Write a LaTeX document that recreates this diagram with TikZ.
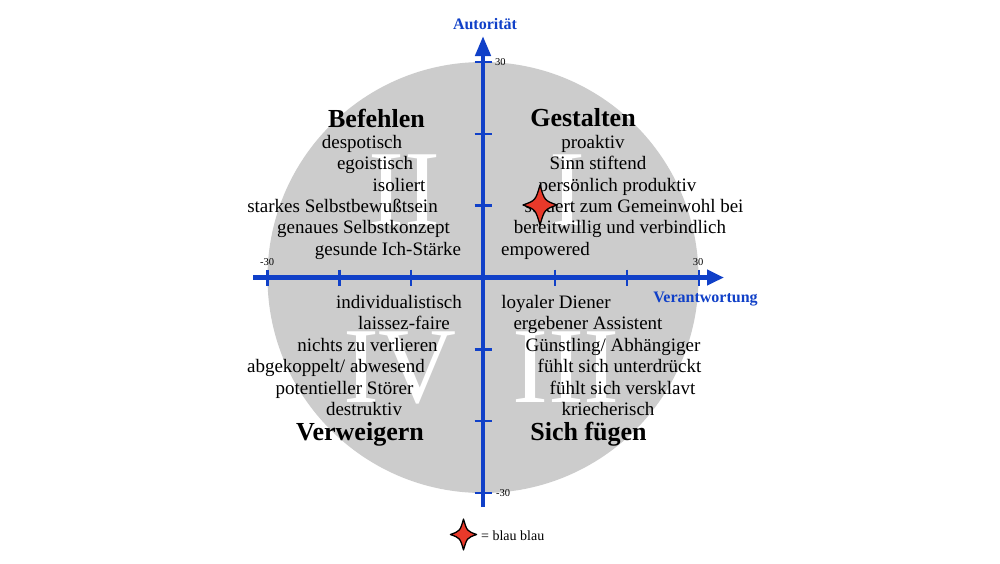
\documentclass[tikz,border=0pt]{standalone}
\usepackage{fontspec}
\setmainfont{Liberation Serif}
\usetikzlibrary{arrows.meta}
\definecolor{axisblue}{HTML}{1040C8}
\definecolor{diskgray}{HTML}{CCCCCC}
\definecolor{starred}{HTML}{E8392A}
\newcommand\fourstar[3]{%
  \begin{scope}[shift={(#1,#2)}, scale=#3]
    \draw[sparkle] (0,-20) .. controls (4.5,-4.5) .. (17,0)
      .. controls (4.5,4.5) .. (0,20)
      .. controls (-4.5,4.5) .. (-17,0)
      .. controls (-4.5,-4.5) .. (0,-20) -- cycle;
  \end{scope}}
\begin{document}
\begin{tikzpicture}[x=1pt,y=-1pt,
  item/.style={anchor=base, font=\fontsize{19}{22}\selectfont, inner sep=0pt},
  head/.style={anchor=base, font=\fontsize{26}{30}\selectfont\bfseries, inner sep=0pt},
  roman/.style={anchor=center, font=\fontsize{108}{120}\selectfont, text=white, inner sep=0pt},
  ticklab/.style={anchor=base, font=\fontsize{10.5}{12}\selectfont, inner sep=0pt},
  axislab/.style={anchor=base, font=\fontsize{16}{19}\selectfont\bfseries, text=axisblue, inner sep=0pt},
  axisline/.style={draw=axisblue, line width=4.5pt, -{Triangle[width=15pt,length=20pt]}},
  tickmark/.style={draw=axisblue, line width=2.5pt},
  sparkle/.style={fill=starred, draw=black, line width=1.3pt, line join=round},
]
\useasboundingbox (0,0) rectangle (1000,563);
\fill[white] (0,0) rectangle (1000,563);
% disk
\fill[diskgray] (483,277.5) circle[radius=215.5pt];
% roman numerals
\node[roman] (rI) at (567,190) {I};
\node[roman] (rII) at (404,190) {II};
\node[roman] (rIII) at (566,367) {III};
\node[roman] (rIV) at (400,368) {IV};
% axes
\coordinate (ybot) at (483,507);
\coordinate (ytop) at (483,36);
\coordinate (xleft) at (253,277.5);
\coordinate (xright) at (724,277.5);
\draw[axisline] (ybot) -- (ytop);
\draw[axisline, -{Triangle[width=15pt,length=17pt]}] (xleft) -- (xright);
% ticks on vertical axis
\foreach \yy/\nm in {62/a,134/b,205.5/c,349.5/d,421/e,493/f}{
  \coordinate (vt\nm l) at (474.5,\yy);
  \coordinate (vt\nm r) at (491.5,\yy);
  \draw[tickmark] (vt\nm l) -- (vt\nm r);
}
% ticks on horizontal axis
\foreach \xx/\nm in {267.5/a,339.5/b,411/c,555/d,627/e,699/f}{
  \coordinate (ht\nm t) at (\xx,269.5);
  \coordinate (ht\nm b) at (\xx,285.5);
  \draw[tickmark] (ht\nm t) -- (ht\nm b);
}
% tick labels
\node[ticklab, anchor=base west] (ltop) at (495,65.5) {30};
\node[ticklab, anchor=base west] (lbot) at (496,496.5) {-30};
\node[ticklab] (lleft) at (267,265.5) {-30};
\node[ticklab] (lright) at (698,265.5) {30};
% axis labels
\node[axislab] (autoritaet) at (485,29) {Autorität};
\node[axislab] (verantwortung) at (705.5,302) {Verantwortung};
% quadrant II
\node[head] (befehlen) at (376.5,127) {Befehlen};
\node[item] (q2a) at (362,148) {despotisch};
\node[item] (q2b) at (375,169.5) {egoistisch};
\node[item] (q2c) at (399,191) {isoliert};
\node[item] (q2d) at (342.5,212) {starkes Selbstbewußtsein};
\node[item] (q2e) at (363.5,233.5) {genaues Selbstkonzept};
\node[item] (q2f) at (388,255) {gesunde Ich-Stärke};
% quadrant I
\node[head] (gestalten) at (583,126.5) {Gestalten};
\node[item] (q1a) at (593,148) {proaktiv};
\node[item] (q1b) at (598,169.5) {Sinn stiftend};
\node[item] (q1c) at (617.5,191) {persönlich produktiv};
\node[item] (q1d) at (634,212) {steuert zum Gemeinwohl bei};
\node[item] (q1e) at (620,233.5) {bereitwillig und verbindlich};
\node[item] (q1f) at (545.5,255) {empowered};
% quadrant IV
\node[item] (q4a) at (399,308) {individualistisch};
\node[item] (q4b) at (404,329.5) {laissez-faire};
\node[item] (q4c) at (367.5,351) {nichts zu verlieren};
\node[item] (q4d) at (336,372.5) {abgekoppelt/ abwesend};
\node[item] (q4e) at (344.5,394) {potentieller Störer};
\node[item] (q4f) at (364,415.5) {destruktiv};
\node[head] (verweigern) at (360,440) {Verweigern};
% quadrant III
\node[item] (q3a) at (556,308) {loyaler Diener};
\node[item] (q3b) at (588,329.5) {ergebener Assistent};
\node[item] (q3c) at (613,351) {Günstling/ Abhängiger};
\node[item] (q3d) at (619.5,372.5) {fühlt sich unterdrückt};
\node[item] (q3e) at (622.5,394) {fühlt sich versklavt};
\node[item] (q3f) at (608,415.5) {kriecherisch};
\node[head] (fuegen) at (588.5,440) {Sich fügen};
% star marker
\fourstar{540}{205}{1}
% legend
\fourstar{463.5}{534.5}{0.77}
\node[anchor=base west, font=\fontsize{14}{16}\selectfont, inner sep=0pt] (legend) at (481,540) {= blau blau};
\end{tikzpicture}
\end{document}
